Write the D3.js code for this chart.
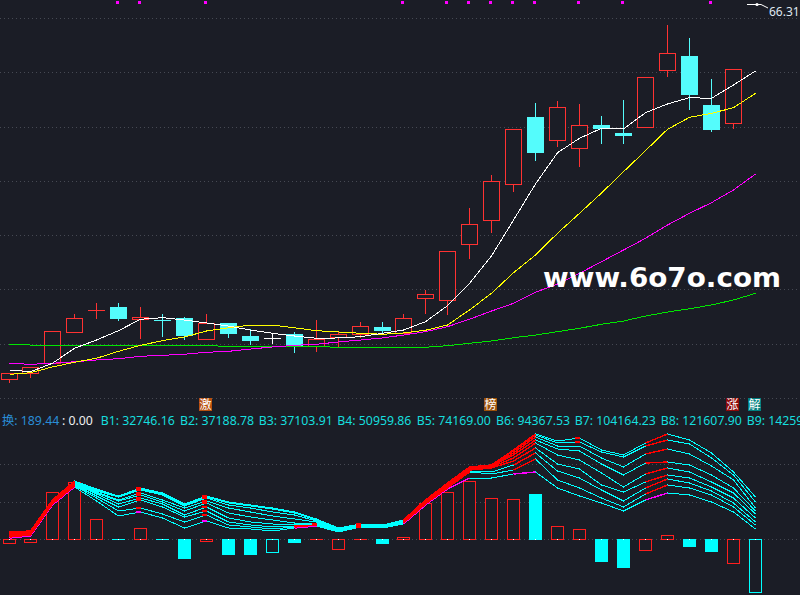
<!DOCTYPE html>
<html>
<head>
<meta charset="utf-8">
<script src="https://cdn.jsdelivr.net/npm/d3@7"></script>
<style>
  body { margin: 0; background: #1b1d26; }
  svg { display: block; }
</style>
</head>
<body>
<div id="chart"></div>
<script>
// ---- candles (34 days, the 35th slot only has indicator values)
const openP  = [33.75, 34.30, 35.22, 38.08, 40.08, 40.38, 39.28, 39.23, 39.37, 37.43, 38.91, 37.71, 37.53, 37.89, 36.79, 37.62, 37.89, 38.54, 37.99, 41.21, 41.03, 46.18, 48.39, 51.71, 57.88, 55.76, 55.03, 57.14, 56.41, 56.96, 62.21, 63.50, 58.99, 57.33];
const closeP = [34.30, 34.86, 38.17, 39.37, 40.11, 39.37, 39.46, 39.14, 37.80, 38.91, 37.99, 37.34, 37.53, 36.88, 37.43, 37.89, 38.63, 38.26, 39.37, 41.58, 45.54, 48.03, 51.99, 56.78, 54.66, 58.80, 57.14, 56.87, 56.22, 61.57, 63.78, 60.00, 56.78, 62.30];
const highP  = [34.30, 34.86, 38.17, 39.74, 40.75, 40.75, 40.38, 39.74, 39.46, 39.74, 38.91, 38.36, 37.99, 38.08, 39.18, 38.08, 39.00, 39.00, 39.74, 41.95, 45.54, 49.50, 52.54, 56.78, 59.17, 59.36, 59.08, 57.97, 59.45, 61.57, 66.31, 65.16, 61.38, 62.30];
const lowP   = [33.47, 33.93, 35.22, 38.08, 39.37, 39.18, 37.53, 37.71, 37.43, 37.43, 37.62, 36.97, 37.07, 36.24, 36.33, 36.70, 37.62, 37.99, 37.99, 39.83, 39.74, 44.89, 47.29, 51.07, 53.92, 55.21, 53.37, 55.49, 55.49, 56.96, 61.66, 58.62, 56.59, 56.87];

// ---- moving averages
const ma5  = [34.58, 34.42, 35.20, 36.58, 37.34, 38.20, 39.25, 39.40, 39.18, 38.91, 38.63, 38.26, 37.96, 37.71, 37.50, 37.53, 37.65, 37.96, 38.26, 39.03, 40.50, 42.56, 45.08, 48.39, 51.71, 54.59, 55.92, 56.84, 56.78, 58.28, 59.08, 59.66, 59.60, 60.83, 62.12];
const ma10 = [34.18, 34.33, 34.86, 35.29, 35.66, 36.30, 36.85, 37.28, 37.62, 38.17, 38.47, 38.72, 38.72, 38.47, 38.20, 38.08, 37.96, 37.87, 37.99, 38.24, 38.72, 40.11, 41.64, 43.54, 45.17, 47.17, 49.01, 50.88, 52.84, 54.78, 56.75, 57.85, 58.22, 58.74, 60.06];
const ma20 = [35.20, 35.10, 35.20, 35.34, 35.50, 35.62, 35.84, 35.93, 36.03, 36.21, 36.30, 36.51, 36.70, 36.85, 36.95, 37.16, 37.34, 37.53, 37.80, 38.11, 38.57, 39.25, 40.01, 40.72, 41.74, 42.50, 43.49, 44.55, 45.63, 46.71, 47.93, 49.01, 49.99, 51.16, 52.63];
const ma60 = [36.95, 36.88, 36.85, 36.84, 36.83, 36.82, 36.82, 36.81, 36.82, 36.81, 36.77, 36.76, 36.76, 36.76, 36.74, 36.67, 36.67, 36.67, 36.67, 36.67, 36.82, 37.04, 37.25, 37.55, 37.80, 38.11, 38.42, 38.79, 39.09, 39.55, 39.92, 40.22, 40.57, 41.03, 41.64];

const gridPrices = [32, 37, 42, 47, 52, 57, 62, 67];
const maxLabel = "66.31";
const signalDays = [5, 6, 9, 18, 20, 21, 22, 23, 24, 26, 28, 32];

// ---- lower panel
const b1 = [3400, 10200, 115600, 176800, 129200, 78200, 91800, 71400, 37400, 61200, 37400, 34000, 27200, 37400, 44200, 23800, 40800, 37400, 51000, 115600, 170000, 207400, 207400, 221000, 227800, 173400, 146200, 122400, 95200, 132600, 156400, 149600, 125800, 91800, 34000];
const b2 = [6800, 13600, 119000, 180200, 139400, 95200, 105400, 85000, 57800, 81600, 47600, 40800, 34000, 40800, 47600, 27200, 40800, 40800, 54400, 119000, 173400, 227800, 221000, 234600, 272000, 200600, 173400, 139400, 108800, 153000, 183600, 173400, 149600, 108800, 47600];
const b3 = [10200, 17000, 122400, 183600, 146200, 108800, 132600, 108800, 74800, 95200, 57800, 47600, 40800, 44200, 47600, 27200, 44200, 40800, 54400, 122400, 176800, 231200, 227800, 251600, 292400, 231200, 207400, 166600, 129200, 173400, 204000, 190400, 163200, 122400, 57800];
const b4 = [13600, 17000, 122400, 187000, 153000, 119000, 139400, 119000, 81600, 108800, 71400, 57800, 51000, 47600, 51000, 30600, 44200, 40800, 57800, 122400, 180200, 234600, 241400, 265200, 309400, 255000, 238000, 183600, 159800, 193800, 217600, 207400, 176800, 139400, 71400];
const b5 = [13600, 20400, 125800, 190400, 156400, 129200, 149600, 125800, 95200, 122400, 88400, 74800, 64600, 54400, 54400, 30600, 47600, 44200, 57800, 125800, 183600, 238000, 244800, 275400, 326400, 285600, 268600, 224400, 176800, 221000, 241400, 227800, 193800, 156400, 85000];
const b6 = [17000, 20400, 129200, 193800, 159800, 132600, 156400, 132600, 105400, 129200, 105400, 91800, 78200, 68000, 57800, 34000, 47600, 44200, 61200, 129200, 183600, 241400, 248200, 285600, 336600, 306000, 299200, 255000, 217600, 258400, 261800, 251600, 217600, 173400, 95200];
const b7 = [20400, 23800, 129200, 193800, 163200, 142800, 166600, 149600, 112200, 139400, 115600, 105400, 91800, 81600, 61200, 34000, 47600, 44200, 61200, 129200, 187000, 241400, 248200, 292400, 346800, 316200, 316200, 275400, 244800, 289000, 306000, 289000, 248200, 200600, 105400];
const b8 = [20400, 23800, 132600, 197200, 166600, 142800, 170000, 153000, 115600, 142800, 122400, 112200, 102000, 88400, 64600, 37400, 51000, 47600, 64600, 132600, 187000, 244800, 251600, 299200, 353600, 326400, 329800, 295800, 278800, 316200, 336600, 323000, 275400, 217600, 125800];
const b9 = [23800, 27200, 132600, 197200, 170000, 146200, 173400, 156400, 119000, 146200, 125800, 115600, 105400, 91800, 68000, 37400, 51000, 47600, 64600, 132600, 190400, 244800, 251600, 302600, 357000, 333200, 343400, 302600, 285600, 326400, 357000, 336600, 292400, 227800, 142800];
const hist = [-13600, -10200, 159800, 193800, 68000, -1700, 37400, -1700, -64600, -6800, -51000, -51000, -44200, -10200, 1000, -34000, 1000, -13600, 6800, 122400, 159800, 197200, 139400, 136000, 153000, 44200, 34000, -74800, -95200, -37400, 13600, -23800, -40800, -81600, -180200];
const subGrid = [0, 126000, 255000];

const legendNames = ["换", "", "B1", "B2", "B3", "B4", "B5", "B6", "B7", "B8", "B9"];
const legendVals  = ["189.44", "0.00", "32746.16", "37188.78", "37103.91", "50959.86", "74169.00", "94367.53", "104164.23", "121607.90", "142590.35"];

const tagDays  = [9, 22, 33, 34];
const tagTexts = ["激", "榜", "涨", "解"];

// ---- drawing
const W = 800, H = 595;
const BG = "#1b1d26", RED = "#ff3232", CYAN = "#54fcfc";

const svg = d3.select("#chart").append("svg").attr("width", W).attr("height", H);
svg.append("rect").attr("width", W).attr("height", H).attr("fill", BG);

const x = d3.scaleLinear().domain([0, 34]).range([9.3, 755.3]);
const y = d3.scaleLinear().domain([32, 67]).range([398, 18]);
const ySub = d3.scaleLinear().domain([0, 340000]).range([539, 439]);
const px = v => Math.round(v) + 0.5;
const col0 = i => Math.floor(x(i) - 0.25);   // pixel column of a bar's centre

// hollow box made of an outer coloured rect and an inner background rect
function box(g, x0, y0, w, h, col, filled) {
  g.append("rect").attr("x", x0).attr("y", y0).attr("width", w).attr("height", Math.max(1, h)).attr("fill", col);
  if (!filled && w > 2 && h > 2) {
    g.append("rect").attr("x", x0 + 1).attr("y", y0 + 1).attr("width", w - 2).attr("height", h - 2).attr("fill", BG);
  }
}

// grid
svg.append("g").selectAll("line").data(gridPrices).join("line")
  .attr("x1", 0).attr("x2", W)
  .attr("y1", d => px(y(d))).attr("y2", d => px(y(d)))
  .attr("stroke", "#464953").attr("stroke-dasharray", "1,3");
svg.append("g").selectAll("line").data(subGrid).join("line")
  .attr("x1", 0).attr("x2", W)
  .attr("y1", d => px(ySub(d))).attr("y2", d => px(ySub(d)))
  .attr("stroke", "#464953").attr("stroke-dasharray", "1,3");

// candles
const candles = openP.map((o, i) => ({ i, o, c: closeP[i], h: highP[i], l: lowP[i] }));
const kind = d => d.c > d.o ? "up" : d.c < d.o ? "down" : "flat";
const colorOf = d => kind(d) === "up" ? RED : kind(d) === "down" ? CYAN : "#ffffff";

const cg = svg.append("g").attr("shape-rendering", "crispEdges");
candles.forEach(d => {
  const cx = col0(d.i);
  const col = colorOf(d);
  const yh = Math.round(y(d.h)), yl = Math.round(y(d.l));
  const yt = Math.round(y(Math.max(d.o, d.c))), yb = Math.round(y(Math.min(d.o, d.c)));
  cg.append("rect").attr("x", cx).attr("y", yh).attr("width", 1).attr("height", yl - yh + 1).attr("fill", col);
  box(cg, cx - 8, yt, 17, yb - yt + 1, col, kind(d) !== "up");
});

// moving averages
const maLine = d3.line().x((d, i) => col0(i) + 0.5).y(d => y(d));
[[ma60, "#00e600"], [ma20, "#ff00ff"], [ma10, "#ffff00"], [ma5, "#ffffff"]].forEach(([s, col]) => {
  svg.append("path").datum(s).attr("d", maLine)
    .attr("fill", "none").attr("stroke", col).attr("stroke-width", 1)
    .attr("shape-rendering", "crispEdges");
});

// signal dots on top
svg.append("g").selectAll("rect").data(signalDays).join("rect")
  .attr("x", d => col0(d) - 2).attr("y", 1)
  .attr("width", 3).attr("height", 3).attr("fill", "#ff00ff");

// max price mark
svg.append("path").attr("d", "M747,4.5H761L768,8")
  .attr("fill", "none").attr("stroke", "#ffffff");
svg.append("circle").attr("cx", 757).attr("cy", 4.5).attr("r", 1.6).attr("fill", "#ffffff");
svg.append("text").attr("x", 769).attr("y", 16).text(maxLabel)
  .attr("font-family", "Noto Sans, sans-serif").attr("font-size", 12).attr("fill", "#dfe6f0");

// watermark
svg.append("text").attr("x", 543).attr("y", 287).text("www.6o7o.com")
  .attr("font-family", "DejaVu Sans, sans-serif").attr("font-weight", "bold")
  .attr("font-size", 27).attr("fill", "#ffffff")
  .attr("textLength", 238).attr("lengthAdjust", "spacingAndGlyphs");

// tags
const tagFill = ["#b8500f", "#9c520c", "#8e0a0a", "#008080"];
const tg = svg.append("g");
tagDays.forEach((d, k) => {
  const cx = col0(d) - 0.5;
  tg.append("rect").attr("x", Math.round(cx - 6.5)).attr("y", 398)
    .attr("width", 13).attr("height", 13).attr("fill", tagFill[k]);
  tg.append("text").attr("x", cx).attr("y", 409).attr("text-anchor", "middle")
    .attr("font-family", "Noto Sans CJK SC").attr("font-size", 12)
    .attr("fill", "#ffffff").text(tagTexts[k]);
});

// legend (the last one runs past the right edge, as in the terminal)
const legendX = [2, 62, 100.7, 180, 258.7, 337.3, 416.7, 496, 574.7, 660.7, 746.7];
const lg = svg.append("g").attr("font-family", "Noto Sans, Noto Sans CJK SC, sans-serif").attr("font-size", 12.3);
legendNames.forEach((n, k) => {
  const col = k === 0 ? "#2a8ed6" : k === 1 ? "#f0f0f0" : "#16dede";
  lg.append("text").attr("x", legendX[k]).attr("y", 425).attr("fill", col)
    .text((n ? n : "") + ": " + legendVals[k]);
});

// histogram
const hg = svg.append("g").attr("shape-rendering", "crispEdges");
const histKind = i => i < candles.length ? kind(candles[i]) : "flat";
hist.forEach((v, i) => {
  const cx = col0(i);
  const y0 = ySub(0), y1 = ySub(v);
  const top = Math.round(Math.min(y0, y1)), bot = Math.round(Math.max(y0, y1));
  const h = Math.max(1, bot - top + 1);
  const k = histKind(i);
  box(hg, cx - 6, top, 13, h, k === "up" ? "#ff1e1e" : "#00ffff", k === "down");
  hg.append("rect").attr("x", cx).attr("y", Math.round(y0)).attr("width", 1).attr("height", 1).attr("fill", "#ffffff");
});

// fan lines
const bSeries = [b1, b2, b3, b4, b5, b6, b7, b8, b9];
const subLine = d3.line().x((d, i) => col0(i) + 0.5).y(d => ySub(d));
const fg = svg.append("g");
bSeries.forEach(s => {
  fg.append("path").datum(s).attr("d", subLine)
    .attr("fill", "none").attr("stroke", "#00ffff").attr("stroke-width", 1)
    .attr("shape-rendering", "crispEdges");
});
bSeries.forEach((s, k) => {
  const up = s.map((v, i) => i === 0 || v > s[i - 1]);
  const col = k === 0 ? "#ff00ff" : "#ff0000";
  const seg = d3.line().defined((d, i) => up[i]).x((d, i) => col0(i) + 0.5).y(d => ySub(d));
  fg.append("path").datum(s).attr("d", seg)
    .attr("fill", "none").attr("stroke", col).attr("stroke-width", 1.4)
    .attr("shape-rendering", "crispEdges");
  s.forEach((v, i) => {
    if (up[i] && !up[i - 1] && !up[i + 1]) {
      fg.append("rect").attr("x", col0(i) - 4).attr("y", Math.round(ySub(v)) - 1)
        .attr("width", 5).attr("height", 2).attr("fill", col);
    }
  });
});
</script>
</body>
</html>
